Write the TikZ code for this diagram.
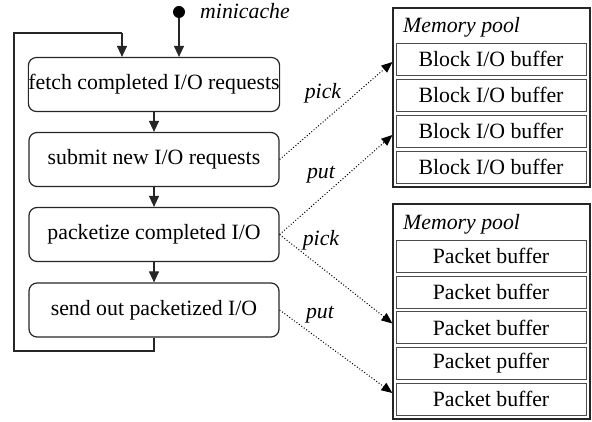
\documentclass[tikz,border=0pt]{standalone}
\usepackage{fontspec}
\setmainfont{Liberation Serif}
\usetikzlibrary{arrows.meta,calc}
\newcommand{\diagfont}{\fontsize{21.8}{26}\selectfont}
\tikzset{
  stage/.style={draw=black!85, line width=1.2pt, rounded corners=8pt,
    minimum width=250pt, minimum height=54pt, inner xsep=0pt, align=center},
  flow/.style={draw=black!85, line width=1.2pt, -{Triangle[length=11pt,width=10pt]}},
  loopline/.style={draw=black!85, line width=1.2pt},
  pool/.style={draw=black!85, line width=1.2pt, minimum width=197pt, inner sep=0pt},
  buf/.style={draw=black!70, line width=0.8pt, minimum width=190pt, minimum height=32pt, inner sep=0pt},
  usage/.style={draw=black, line width=1pt, dotted, -{Triangle[length=11pt,width=9pt]}},
  tag/.style={font=\diagfont\itshape, inner sep=0pt}
}
\begin{document}
\begin{tikzpicture}[x=1pt,y=-1pt, font=\diagfont]
\useasboundingbox (0,0) rectangle (592,422);

% main loop stages
\node[stage] (fetch)  at (154,84.5) {fetch completed I/O requests};
\node[stage] (submit) at (154,159.5) {submit new I/O requests};
\node[stage] (pack)   at (154,234.5) {packetize completed I/O};
\node[stage] (send)   at (154,310) {send out packetized I/O};

% entry point
\node[circle, fill=black, inner sep=0pt, minimum size=12pt] (start) at (179,12) {};
\node[tag, anchor=west] (mc) at (200,11) {minicache};
\draw[flow] (start) -- (start |- fetch.north);

\draw[flow] (fetch) -- (submit);
\draw[flow] (submit) -- (pack);
\draw[flow] (pack) -- (send);

% back edge from the last stage to the first
\coordinate (lpA) at (14,351);
\coordinate (lpB) at (14,33);
\coordinate (lpC) at (122,33);
\draw[loopline] (send.south) |- (lpA) -- (lpB) -- (lpC);
\draw[flow] (lpC) -- (lpC |- fetch.north);

% block I/O buffer pool
\node[pool, minimum height=179pt] (poolA) at (491.5,97.5) {};
\node[tag, anchor=west] (memA) at (403,27) {Memory pool};
\node[buf] (a1) at (491,59) {Block I/O buffer};
\node[buf] (a2) at (491,95) {Block I/O buffer};
\node[buf] (a3) at (491,131) {Block I/O buffer};
\node[buf] (a4) at (491,167) {Block I/O buffer};

% packet buffer pool
\node[pool, minimum height=215pt] (poolB) at (491.5,311.5) {};
\node[tag, anchor=west] (memB) at (403,224) {Memory pool};
\node[buf] (b1) at (491,256) {Packet buffer};
\node[buf] (b2) at (491,292) {Packet buffer};
\node[buf] (b3) at (491,327.5) {Packet buffer};
\node[buf] (b4) at (491,363) {Packet puffer};
\node[buf] (b5) at (491,399) {Packet buffer};

% buffer usage
\draw[usage] (submit.east) -- ($(poolA.west |- a1)+(0,3)$);
\draw[usage] (pack.east) -- ($(poolA.west |- a3)+(0,4)$);
\draw[usage] (pack.east) -- ($(poolB.west |- b3)+(0,-4)$);
\draw[usage] (send.east) -- ($(poolB.west |- b5)+(0,-6)$);

\node[tag] (pk1) at (323,93) {pick};
\node[tag] (pt1) at (321,175) {put};
\node[tag] (pk2) at (321,240) {pick};
\node[tag] (pt2) at (320,315) {put};
\end{tikzpicture}
\end{document}
